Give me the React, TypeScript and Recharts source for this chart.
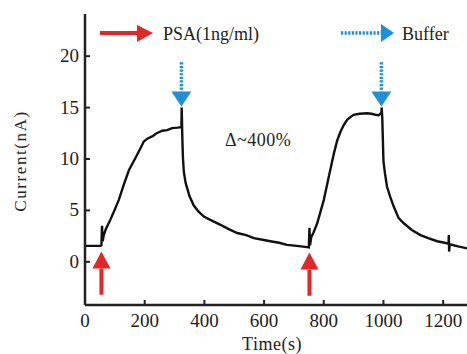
import React from "react";
import {
  LineChart,
  Line,
  XAxis,
  YAxis,
  ReferenceLine,
} from "recharts";

// time (s)
const times = [
  0, 20, 52, 55, 57, 59, 63, 70, 85, 100, 113, 130, 147, 169, 185, 197, 210, 225, 240, 259, 275, 292, 310, 323,
  324, 326, 328, 331, 337, 350, 364, 380, 398, 425, 454, 480, 510, 540, 566, 595, 621, 650, 677, 710, 744, 750,
  752, 754, 758, 765, 778, 800, 817, 834, 845, 856, 867, 878, 890, 900, 920, 945, 960, 973, 984, 993, 994, 996,
  1000, 1005, 1012, 1023, 1034, 1051, 1068, 1095, 1124, 1150, 1180, 1205, 1218, 1219, 1220, 1222, 1250, 1281, 1300,
];
// current (nA)
const current = [
  1.55, 1.55, 1.55, 1.6, 3.5, 2.0, 2.6, 3.2, 4.1, 5.1, 6.0, 7.5, 8.9, 10.1, 11.0, 11.7, 12.0, 12.2, 12.5, 12.75,
  12.8, 13.0, 13.05, 13.1, 15.0, 12.2, 10.2, 8.8, 7.7, 6.4, 5.5, 4.9, 4.4, 4.0, 3.6, 3.2, 2.8, 2.6, 2.3, 2.15,
  2.0, 1.85, 1.65, 1.55, 1.43, 1.4, 3.3, 1.6, 2.4, 2.8, 3.75, 6.0, 8.3, 10.55, 11.8, 12.65, 13.3, 13.8, 14.1,
  14.3, 14.4, 14.45, 14.4, 14.3, 14.25, 14.5, 15.0, 14.0, 9.8, 8.6, 7.3, 6.3, 5.4, 4.25, 3.75, 3.1, 2.6, 2.3,
  2.0, 1.85, 1.75, 2.6, 1.0, 1.7, 1.5, 1.3, 1.25,
];

const xTicks = [0, 200, 400, 600, 800, 1000, 1200];
const yTicks = [0, 5, 10, 15, 20];

// PSA injection (red, up) and buffer (blue, down) arrows: [time, tail, tip]
const psaArrows = [
  [55, -3.2, 1.0],
  [752, -3.3, 0.9],
];
const bufferArrows = [
  [323, 19.4, 15.1],
  [993, 19.4, 15.1],
];

const data = times.map((t, i) => ({ t, v: current[i] }));

const FONT = "'Liberation Serif', 'DejaVu Serif', serif";
const INK = "#222";
const RED = "#e02828";
const BLUE = "#1f8fd8";

function XTick({ x, y, payload }: any) {
  return (
    <g>
      <line x1={x} y1={y} x2={x} y2={y - 5} stroke={INK} strokeWidth={2} />
      <text x={x} y={y + 22} textAnchor="middle" style={{ fontFamily: FONT, fontSize: 19 }} fill={INK}>
        {payload.value}
      </text>
    </g>
  );
}

function YTick({ x, y, payload }: any) {
  return (
    <g>
      <line x1={x} y1={y} x2={x + 5} y2={y} stroke={INK} strokeWidth={2} />
      <text x={x - 6} y={y + 6} textAnchor="end" style={{ fontFamily: FONT, fontSize: 19 }} fill={INK}>
        {payload.value}
      </text>
    </g>
  );
}

function arrowShape(color: string, dotted: boolean) {
  return (p: any) => {
    const { x1, y1, x2, y2 } = p;
    const dir = y2 > y1 ? 1 : -1;
    const head = dotted ? 15 : 17;
    const half = dotted ? 10 : 9;
    const baseY = y2 - dir * head;
    return (
      <g>
        <line
          x1={x1}
          y1={y1}
          x2={x1}
          y2={baseY}
          stroke={color}
          strokeWidth={dotted ? 3.5 : 4}
          strokeDasharray={dotted ? "2.2 1.4" : undefined}
        />
        <polygon points={`${x2},${y2} ${x2 - half},${baseY} ${x2 + half},${baseY}`} fill={color} />
      </g>
    );
  };
}

function Overlay() {
  return (
    <svg width={467} height={354} style={{ position: "absolute", left: 0, top: 0, pointerEvents: "none" }}>
      <line x1={100} y1={33} x2={138} y2={33} stroke={RED} strokeWidth={4} />
      <polygon points="153,33 137,25 137,42" fill={RED} />
      <text x={163} y={40} style={{ fontFamily: FONT, fontSize: 18 }} fill={INK}>
        PSA(1ng/ml)
      </text>
      <line x1={341} y1={33} x2={382} y2={33} stroke={BLUE} strokeWidth={3.5} strokeDasharray="2.2 1.4" />
      <polygon points="394,33 381,24 381,42" fill={BLUE} />
      <text x={402} y={40} style={{ fontFamily: FONT, fontSize: 18 }} fill={INK}>
        Buffer
      </text>
      <text x={225} y={146} style={{ fontFamily: FONT, fontSize: 18, letterSpacing: 0.5 }} fill={INK}>
        Δ~400%
      </text>
      <text
        x={20}
        y={161}
        textAnchor="middle"
        dominantBaseline="central"
        transform="rotate(-90 20 161)"
        style={{ fontFamily: FONT, fontSize: 17, letterSpacing: 1.6 }}
        fill={INK}
      >
        Current(nA)
      </text>
      <text x={272} y={350} textAnchor="middle" style={{ fontFamily: FONT, fontSize: 18, letterSpacing: 0.5 }} fill={INK}>
        Time(s)
      </text>
    </svg>
  );
}

export default function App() {
  return (
    <div style={{ position: "fixed", left: 0, top: 0, width: 467, height: 354, overflow: "hidden", background: "#fff" }}>
      <LineChart width={480} height={354} data={data} margin={{ top: 14, right: 7, bottom: 0, left: 0 }}>
        <XAxis
          dataKey="t"
          type="number"
          domain={[0, 1300]}
          ticks={xTicks}
          allowDataOverflow
          height={49}
          tickSize={0}
          tickMargin={0}
          tickLine={false}
          tick={<XTick />}
          axisLine={{ stroke: INK, strokeWidth: 2.5 }}
        />
        <XAxis
          xAxisId="top"
          orientation="top"
          dataKey="t"
          type="number"
          domain={[0, 1300]}
          height={0}
          tick={false}
          tickLine={false}
          axisLine={{ stroke: INK, strokeWidth: 3 }}
        />
        <YAxis
          type="number"
          domain={[-4.2, 24.1]}
          ticks={yTicks}
          allowDataOverflow
          width={85}
          tickSize={0}
          tickMargin={0}
          tickLine={false}
          tick={<YTick />}
          axisLine={{ stroke: INK, strokeWidth: 2.5 }}
        />
        {psaArrows.map(([t, a, b], i) => (
          <ReferenceLine
            key={`p${i}`}
            segment={[
              { x: t, y: a },
              { x: t, y: b },
            ]}
            shape={arrowShape(RED, false)}
          />
        ))}
        {bufferArrows.map(([t, a, b], i) => (
          <ReferenceLine
            key={`b${i}`}
            segment={[
              { x: t, y: a },
              { x: t, y: b },
            ]}
            shape={arrowShape(BLUE, true)}
          />
        ))}
        <Line
          type="linear"
          dataKey="v"
          stroke="#111"
          strokeWidth={2.4}
          dot={false}
          isAnimationActive={false}
        />
      </LineChart>
      <Overlay />
    </div>
  );
}
